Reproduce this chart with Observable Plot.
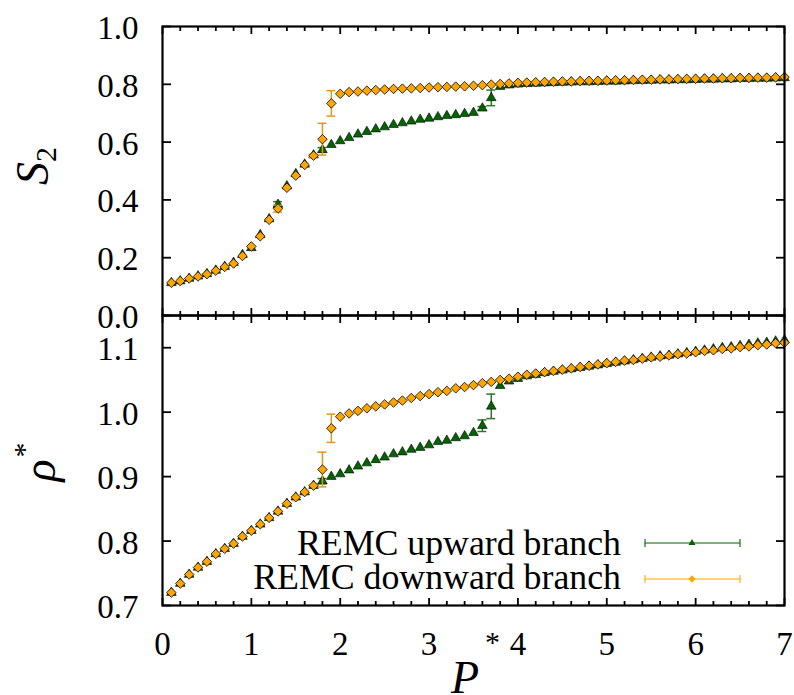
<!DOCTYPE html>
<html><head><meta charset="utf-8">
<script src="https://cdn.jsdelivr.net/npm/d3@7"></script>
<script src="https://cdn.jsdelivr.net/npm/@observablehq/plot@0.6"></script>
<style>
body{margin:0;background:#fff;}
#chart{position:relative;width:794px;height:695px;overflow:hidden;background:#fff;}
#chart svg{position:absolute;left:0;top:0;}
</style></head><body><div id="chart"></div>
<script>
// ---- data ----
const P = [0.1,0.2,0.3,0.4,0.5,0.6,0.7,0.8,0.9,1.0,
  1.1,1.2,1.3,1.4,1.5,1.6,1.7,1.8,1.9,2.0,
  2.1,2.2,2.3,2.4,2.5,2.6,2.7,2.8,2.9,3.0,
  3.1,3.2,3.3,3.4,3.5,3.6,3.7,3.8,3.9,4.0,
  4.1,4.2,4.3,4.4,4.5,4.6,4.7,4.8,4.9,5.0,
  5.1,5.2,5.3,5.4,5.5,5.6,5.7,5.8,5.9,6.0,
  6.1,6.2,6.3,6.4,6.5,6.6,6.7,6.8,6.9,7.0];

const s2Up = [0.113,0.119,0.128,0.136,0.144,0.156,0.169,0.183,0.210,0.234,
  0.279,0.334,0.384,0.448,0.490,0.523,0.555,0.573,0.591,0.604,
  0.615,0.627,0.636,0.645,0.652,0.660,0.666,0.672,0.678,0.682,
  0.687,0.691,0.694,0.698,0.702,0.717,0.753,0.792,0.797,0.800,
  0.802,0.803,0.804,0.805,0.806,0.807,0.808,0.808,0.809,0.810,
  0.810,0.811,0.812,0.812,0.813,0.814,0.814,0.815,0.815,0.816,
  0.817,0.817,0.818,0.818,0.819,0.819,0.820,0.820,0.821,0.822];

const s2Down = [0.113,0.119,0.128,0.135,0.143,0.155,0.168,0.180,0.206,0.239,
  0.274,0.331,0.370,0.442,0.484,0.521,0.553,0.610,0.734,0.767,
  0.773,0.775,0.778,0.780,0.782,0.784,0.785,0.786,0.787,0.789,
  0.790,0.791,0.792,0.793,0.795,0.797,0.799,0.801,0.803,0.805,
  0.806,0.807,0.808,0.809,0.810,0.810,0.811,0.812,0.812,0.813,
  0.814,0.814,0.815,0.816,0.816,0.817,0.817,0.818,0.819,0.819,
  0.820,0.820,0.821,0.821,0.822,0.822,0.823,0.823,0.824,0.825];

const rhoUp = [0.720,0.734,0.748,0.759,0.768,0.780,0.788,0.796,0.807,0.816,
  0.826,0.836,0.846,0.858,0.868,0.876,0.886,0.893,0.900,0.904,
  0.910,0.916,0.921,0.926,0.930,0.935,0.938,0.942,0.945,0.949,
  0.954,0.956,0.960,0.963,0.968,0.979,1.009,1.041,1.048,1.052,
  1.056,1.058,1.061,1.063,1.065,1.067,1.069,1.071,1.073,1.075,
  1.077,1.079,1.081,1.083,1.085,1.087,1.088,1.090,1.092,1.094,
  1.096,1.098,1.100,1.101,1.103,1.105,1.107,1.108,1.110,1.112];

const rhoDown = [0.720,0.734,0.748,0.759,0.768,0.780,0.788,0.796,0.807,0.816,
  0.826,0.836,0.846,0.858,0.868,0.876,0.886,0.911,0.975,0.993,
  0.998,1.002,1.006,1.009,1.012,1.015,1.018,1.022,1.025,1.028,
  1.031,1.033,1.037,1.039,1.042,1.045,1.047,1.050,1.052,1.055,
  1.058,1.060,1.062,1.064,1.066,1.068,1.070,1.072,1.074,1.076,
  1.078,1.080,1.081,1.083,1.085,1.086,1.088,1.090,1.091,1.093,
  1.095,1.096,1.098,1.099,1.101,1.102,1.104,1.105,1.107,1.108];

// visible error bars: [P, half-width]
const s2UpErr = [[1.3,0.010],[1.8,0.008],[3.6,0.006],[3.7,0.027]];
const s2DownErr = [[1.3,0.012],[1.7,0.005],[1.8,0.055],[1.9,0.044]];
const rhoUpErr = [[1.8,0.004],[3.6,0.009],[3.7,0.019]];
const rhoDownErr = [[1.8,0.027],[1.9,0.022]];

const xMajor = [0,1,2,3,4,5,6,7];
const xMinor = [0.2,0.4,0.6,0.8,1.2,1.4,1.6,1.8,2.2,2.4,2.6,2.8,3.2,3.4,3.6,3.8,4.2,4.4,4.6,4.8,5.2,5.4,5.6,5.8,6.2,6.4,6.6,6.8];
const yTicksS2 = [0,0.2,0.4,0.6,0.8,1.0];
const yTicksRho = [0.7,0.8,0.9,1.0,1.1];
const seriesNames = ["REMC upward branch","REMC downward branch"];

// ---- font: pick an installed serif face ----
const ctx = document.createElement("canvas").getContext("2d");
function installed(f){
  const s = "REMC downward branch 0.8 1234567";
  ctx.font = `40px "${f}", monospace`; const a = ctx.measureText(s).width;
  ctx.font = `40px "${f}", sans-serif`; const b = ctx.measureText(s).width;
  return Math.abs(a-b) < 0.01;
}
const cands = ["Liberation Serif","Times New Roman","Times","Nimbus Roman","Nimbus Roman No9 L","TeX Gyre Termes","FreeSerif","DejaVu Serif","Noto Serif"];
const picked = cands.find(installed);
const FONT = picked ? `"${picked}", serif` : "serif";
function textWidth(s, size, style){ ctx.font = `${style||""} ${size}px ${FONT}`; return ctx.measureText(s).width; }

// ---- build ----
const GREEN = "#006400", ORANGE = "#ffa500";
const GREEN_ERR = "#2a7a2a", ORANGE_ERR = "#e0981c";
const W = 794, H = 695, ML = 162, MR = 10;
const TICK_SIZE = 33;
const LEG_SIZE = Math.max(28, Math.min(38, 36 * 368 / textWidth(seriesNames[1], 36)));

const upRows = P.map((p,i)=>({P:p, s2:s2Up[i], rho:rhoUp[i]}));
const downRows = P.map((p,i)=>({P:p, s2:s2Down[i], rho:rhoDown[i]}));
function errRows(list, series, key){
  return list.map(([p,e])=>{
    const v = series[P.indexOf(p)][key];
    return {P:p, lo:v-e, hi:v+e, a:p-0.05, b:p+0.05};
  });
}

function panel(key, yDomain, yTicks, marginTop, marginBottom, upErr, downErr, xLabels){
  const eu = errRows(upErr, upRows, key), ed = errRows(downErr, downRows, key);
  const marks = [
    Plot.ruleX(eu, {x:"P", y1:"lo", y2:"hi", stroke:GREEN_ERR, strokeWidth:1.5}),
    Plot.ruleY(eu, {y:"lo", x1:"a", x2:"b", stroke:GREEN_ERR, strokeWidth:1.5}),
    Plot.ruleY(eu, {y:"hi", x1:"a", x2:"b", stroke:GREEN_ERR, strokeWidth:1.5}),
    Plot.dot(upRows, {x:"P", y:key, symbol:"triangle2", r:4.6, fill:GREEN, stroke:"#000", strokeWidth:0.6}),
    Plot.ruleX(ed, {x:"P", y1:"lo", y2:"hi", stroke:ORANGE_ERR, strokeWidth:1.5}),
    Plot.ruleY(ed, {y:"lo", x1:"a", x2:"b", stroke:ORANGE_ERR, strokeWidth:1.5}),
    Plot.ruleY(ed, {y:"hi", x1:"a", x2:"b", stroke:ORANGE_ERR, strokeWidth:1.5}),
    Plot.dot(downRows, {x:"P", y:key, symbol:"diamond2", r:4.3, fill:ORANGE, stroke:"#000", strokeWidth:0.8}),
    Plot.frame({stroke:"#000", strokeWidth:2.2}),
    Plot.axisX(xMajor, {anchor:"bottom", tickSize:-7, strokeWidth:1.8, fill:"none", label:null}),
    Plot.axisX(xMinor, {anchor:"bottom", tickSize:-4, strokeWidth:1.8, fill:"none", label:null}),
    Plot.axisX(xMajor, {anchor:"top", tickSize:-7, strokeWidth:1.8, fill:"none", label:null}),
    Plot.axisX(xMinor, {anchor:"top", tickSize:-4, strokeWidth:1.8, fill:"none", label:null}),
    Plot.axisY(yTicks, {anchor:"left", tickSize:-9, strokeWidth:1.8, fill:"none", label:null}),
    Plot.axisY(yTicks, {anchor:"right", tickSize:-9, strokeWidth:1.8, fill:"none", label:null}),
    Plot.axisY(yTicks, {anchor:"left", tickSize:0, tickPadding:24, dy:2, tickFormat:d3.format(".1f"), fontSize:TICK_SIZE, fill:"#000", label:null})
  ];
  if (xLabels) marks.push(Plot.axisX(xMajor, {anchor:"bottom", tickSize:0, tickPadding:26, tickFormat:d=>String(d), fontSize:TICK_SIZE, fill:"#000", label:null}));
  return Plot.plot({
    width:W, height:H, marginLeft:ML, marginRight:MR, marginTop, marginBottom,
    style:{fontFamily:FONT, fontSize:TICK_SIZE+"px", background:"transparent", overflow:"visible", color:"#000"},
    x:{domain:[0,7]}, y:{domain:yDomain},
    marks
  });
}

const chartDiv = document.getElementById("chart");
const topSvg = panel("s2", [0,1], yTicksS2, 26, H-315, s2UpErr, s2DownErr, false);
const botSvg = panel("rho", [0.7,1.15], yTicksRho, 315, H-605, rhoUpErr, rhoDownErr, true);
chartDiv.appendChild(topSvg);
chartDiv.appendChild(botSvg);

// axis titles
const st = d3.select(topSvg);
const t1 = st.append("text").attr("transform","translate(48,166) rotate(-90)")
  .attr("text-anchor","middle").attr("font-family",FONT).attr("font-size",46).attr("fill","#000");
t1.append("tspan").attr("font-style","italic").text("S");
t1.append("tspan").attr("font-size",30).attr("dy",8).text("2");

const sb = d3.select(botSvg);
const t2 = sb.append("text").attr("transform","translate(55,462) rotate(-90)")
  .attr("text-anchor","middle").attr("font-family",FONT).attr("font-size",46).attr("fill","#000");
t2.append("tspan").attr("font-style","italic").text("ρ");
t2.append("tspan").attr("font-size",30).attr("dy",-21).attr("dx",2).text("*");

const t3 = sb.append("text").attr("x",451).attr("y",693)
  .attr("text-anchor","start").attr("font-family",FONT).attr("font-size",46).attr("fill","#000");
t3.append("tspan").attr("font-style","italic").text("P");
t3.append("tspan").attr("font-size",30).attr("dy",-41).attr("dx",6).text("*");

// legend
const leg = sb.append("g").attr("font-family",FONT).attr("font-size",LEG_SIZE).attr("fill","#000");
const legItems = [
  {label:seriesNames[0], color:GREEN, sym:d3.symbolTriangle2, size:36, ty:555, ly:543},
  {label:seriesNames[1], color:ORANGE, sym:d3.symbolDiamond2, size:34, ty:589, ly:579}
];
legItems.forEach(it=>{
  leg.append("text").attr("x",621).attr("y",it.ty).attr("text-anchor","end").text(it.label);
  const g = leg.append("g").attr("stroke",it.color).attr("stroke-width",1.1);
  g.append("line").attr("x1",645).attr("x2",740).attr("y1",it.ly).attr("y2",it.ly);
  g.append("line").attr("x1",645).attr("x2",645).attr("y1",it.ly-4).attr("y2",it.ly+4);
  g.append("line").attr("x1",740).attr("x2",740).attr("y1",it.ly-4).attr("y2",it.ly+4);
  leg.append("path").attr("d",d3.symbol(it.sym, it.size)()).attr("transform",`translate(692,${it.ly})`).attr("fill",it.color);
});
</script></body></html>
